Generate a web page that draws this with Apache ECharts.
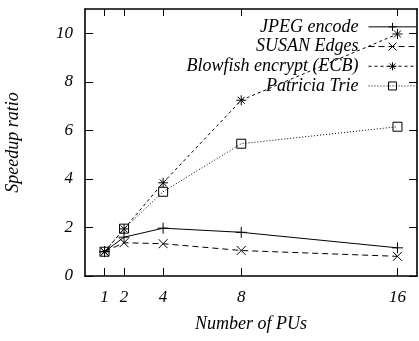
<!DOCTYPE html>
<html>
<head>
<meta charset="utf-8">
<script src="https://cdn.jsdelivr.net/npm/echarts@6/dist/echarts.min.js"></script>
<style>
html,body{margin:0;padding:0;background:#fff;}
#main{width:419px;height:341px;}
</style>
</head>
<body>
<div id="main"></div>
<script>
var pus = [1, 2, 4, 8, 16];
var xTicks = [1, 2, 4, 8, 16];
var yTicks = [0, 2, 4, 6, 8, 10];
var jpegEncode = [1, 1.6, 1.97, 1.8, 1.16];
var susanEdges = [1, 1.37, 1.33, 1.05, 0.81];
var blowfishECB = [1, 1.94, 3.84, 7.24, 9.97];
var patriciaTrie = [1, 1.95, 3.47, 5.45, 6.15];
var seriesNames = ['JPEG encode', 'SUSAN Edges', 'Blowfish encrypt (ECB)', 'Patricia Trie'];

function pairs(vals) { return pus.map(function (x, i) { return [x, vals[i]]; }); }

var font = 'Liberation Serif';
var nameTxt = { fontFamily: font, fontStyle: 'italic', fontSize: 18, color: '#000' };
var tickTxt = { fontFamily: font, fontStyle: 'italic', fontSize: 17, color: '#000' };

var symPlus = 'path://M5,0L5,10M0,5L10,5';
var symCross = 'path://M0,0L10,10M10,0L0,10';
var symStar = 'path://M5,0L5,10M0,5L10,5M1.5,1.5L8.5,8.5M8.5,1.5L1.5,8.5';

function mk(name, data, symbol, size, dash) {
  return {
    name: name, type: 'line', data: pairs(data),
    symbol: symbol, symbolSize: size, showAllSymbol: true,
    lineStyle: { color: '#000', width: 1, type: dash },
    itemStyle: { color: 'rgba(0,0,0,0)', borderColor: '#000', borderWidth: 1 },
    emphasis: { disabled: true },
    animation: false, z: 3
  };
}

var chart = echarts.init(document.getElementById('main'), null, { renderer: 'canvas' });
var axisLine = { show: true, onZero: false, lineStyle: { color: '#000', width: 1.6 } };
var tickStyle = { color: '#000', width: 1 };
chart.setOption({
  animation: false,
  grid: { left: 85, right: 2, top: 9, bottom: 65, containLabel: false, outerBoundsMode: 'none' },
  legend: {
    data: seriesNames,
    orient: 'vertical', align: 'right', right: 2, top: 17, padding: 0,
    itemWidth: 48, itemHeight: 10, itemGap: 0,
    lineStyle: { width: 1 },
    itemStyle: { borderWidth: 1 },
    textStyle: { fontFamily: font, fontStyle: 'italic', fontSize: 18, color: '#000', lineHeight: 19.7, padding: [0, 5, 0, 0] },
    selectedMode: false
  },
  xAxis: [{
    type: 'value', min: 0, max: 17, position: 'bottom',
    name: 'Number of PUs', nameLocation: 'middle', nameGap: 39, nameTextStyle: nameTxt,
    axisLine: axisLine,
    axisTick: { show: true, inside: true, length: 8, customValues: xTicks, lineStyle: tickStyle },
    axisLabel: Object.assign({ customValues: xTicks, margin: 13 }, tickTxt),
    splitLine: { show: false }
  }, {
    type: 'value', min: 0, max: 17, position: 'top',
    axisLine: axisLine,
    axisTick: { show: true, inside: true, length: 7, customValues: xTicks, lineStyle: tickStyle },
    axisLabel: { show: false },
    splitLine: { show: false }
  }],
  yAxis: [{
    type: 'value', min: 0, max: 11, interval: 2, position: 'left',
    name: 'Speedup ratio', nameLocation: 'middle', nameGap: 63, nameRotate: 90, nameTextStyle: nameTxt,
    axisLine: axisLine,
    axisTick: { show: true, inside: true, length: 8, customValues: yTicks, lineStyle: tickStyle },
    axisLabel: Object.assign({ customValues: yTicks, margin: 12 }, tickTxt),
    splitLine: { show: false }
  }, {
    type: 'value', min: 0, max: 11, interval: 2, position: 'right',
    axisLine: axisLine,
    axisTick: { show: true, inside: true, length: 8, customValues: yTicks, lineStyle: tickStyle },
    axisLabel: { show: false },
    splitLine: { show: false }
  }],
  series: [
    mk(seriesNames[0], jpegEncode, symPlus, 11, 'solid'),
    mk(seriesNames[1], susanEdges, symCross, 9, [6, 4]),
    mk(seriesNames[2], blowfishECB, symStar, 10, [3, 3]),
    mk(seriesNames[3], patriciaTrie, 'rect', 9, [1, 2])
  ]
});
</script>
</body>
</html>
